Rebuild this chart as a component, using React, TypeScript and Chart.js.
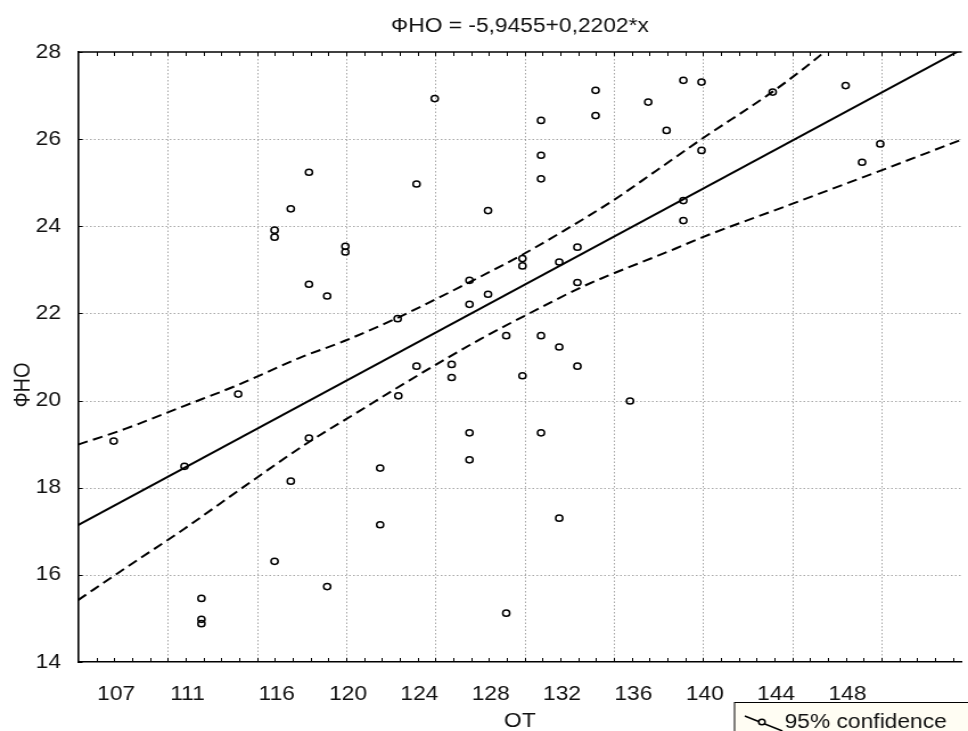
import React, { useEffect, useRef } from "react";
import { Chart, registerables } from "chart.js";

Chart.register(...registerables);

// ---------- text ----------
const TITLE = "ФНО = -5,9455+0,2202*x";
const X_TITLE = "ОТ";
const Y_TITLE = "ФНО";
const CI_LABEL = "95% confidence";

// ---------- axes ----------
const X_MIN = 104.86;
const X_MAX = 154.41;
const Y_MIN = 14;
const Y_MAX = 28;
const xTickLabels = [107, 111, 116, 120, 124, 128, 132, 136, 140, 144, 148];
const xGridValues = [109.9, 114.9, 119.9, 124.9, 129.9, 134.9, 139.9, 144.9, 149.9];
const yTickValues = [14, 16, 18, 20, 22, 24, 26, 28];

// ---------- observations ----------
const obsX = [
  106.86, 110.83, 111.78, 111.78, 111.78, 113.84, 115.88, 115.88, 115.88, 116.79,
  116.79, 117.81, 117.81, 117.81, 118.83, 118.83, 119.85, 119.85, 121.8, 121.8,
  122.78, 122.82, 123.84, 123.84, 124.86, 125.81, 125.81, 126.81, 126.81, 126.81,
  126.81, 127.85, 127.85, 128.87, 128.87, 129.78, 129.78, 129.78, 130.82, 130.82,
  130.82, 130.82, 130.82, 131.84, 131.84, 131.84, 132.86, 132.86, 132.86, 133.88,
  133.88, 135.81, 136.83, 137.86, 138.8, 138.8, 138.8, 139.82, 139.82, 143.81,
  147.9, 148.82, 149.84,
];
const obsY = [
  19.07, 18.49, 15.46, 14.98, 14.88, 20.15, 23.91, 23.75, 16.31, 24.4,
  18.15, 25.24, 22.67, 19.14, 22.4, 15.73, 23.54, 23.41, 18.45, 17.15,
  21.88, 20.11, 24.97, 20.79, 26.93, 20.83, 20.53, 22.76, 22.21, 19.26,
  18.64, 24.36, 22.44, 21.49, 15.12, 23.26, 23.09, 20.57, 26.43, 25.63,
  25.09, 21.49, 19.26, 23.18, 21.23, 17.3, 23.52, 22.71, 20.79, 27.12,
  26.54, 19.99, 26.85, 26.2, 27.35, 24.59, 24.13, 27.31, 25.74, 27.08,
  27.23, 25.47, 25.89,
];

// ---------- regression line (read at plot edges) ----------
const fitX = [104.86, 154.41];
const fitY = [17.14, 28.06];

// ---------- 95% confidence bands ----------
const upperX = [104.86, 107.5, 110.83, 113.84, 117.22, 119.93, 122.78, 126.68, 129.65, 132.07, 134.85, 137.26, 139.82, 143.81, 146.17, 146.7];
const upperY = [18.99, 19.35, 19.88, 20.36, 20.97, 21.39, 21.9, 22.69, 23.32, 23.89, 24.59, 25.27, 26.0, 27.09, 27.82, 28.0];
const lowerX = [104.86, 107.57, 110.83, 113.84, 117.81, 120.56, 122.78, 127.42, 130.21, 133.18, 138.37, 139.82, 144.93, 149.94, 154.41];
const lowerY = [15.42, 16.17, 17.06, 17.93, 19.05, 19.74, 20.3, 21.41, 22.01, 22.62, 23.49, 23.74, 24.52, 25.29, 25.99];

const FONT = "'Liberation Sans', Arial, sans-serif";
const INK = "#111";

const zip = (xs: number[], ys: number[]) => xs.map((x, i) => ({ x, y: ys[i] }));

const decorPlugin = {
  id: "decor",
  beforeDatasetsDraw(chart: any) {
    const { ctx, chartArea: a, scales } = chart;
    const x = scales.x;
    const y = scales.y;
    ctx.save();
    // dotted grid
    ctx.strokeStyle = "rgba(120,120,120,0.65)";
    ctx.lineWidth = 1;
    ctx.setLineDash([1.5, 2]);
    ctx.beginPath();
    for (const v of xGridValues) {
      const px = Math.round(x.getPixelForValue(v)) + 0.5;
      ctx.moveTo(px, a.top);
      ctx.lineTo(px, a.bottom);
    }
    for (const v of yTickValues) {
      if (v <= Y_MIN || v >= Y_MAX) continue;
      const py = Math.round(y.getPixelForValue(v)) + 0.5;
      ctx.moveTo(a.left, py);
      ctx.lineTo(a.right, py);
    }
    ctx.stroke();
    ctx.setLineDash([]);
    // top frame
    ctx.strokeStyle = "#000";
    ctx.lineWidth = 1.6;
    ctx.beginPath();
    ctx.moveTo(a.left, a.top);
    ctx.lineTo(a.right, a.top);
    ctx.stroke();
    // minor ticks top & bottom
    ctx.lineWidth = 1;
    ctx.beginPath();
    for (let v = xGridValues[0] - 4; v <= X_MAX; v += 1) {
      const px = Math.round(x.getPixelForValue(v)) + 0.5;
      ctx.moveTo(px, a.top);
      ctx.lineTo(px, a.top + 4);
      ctx.moveTo(px, a.bottom);
      ctx.lineTo(px, a.bottom - 4);
    }
    for (const v of yTickValues) {
      const py = Math.round(y.getPixelForValue(v)) + 0.5;
      ctx.moveTo(a.left, py);
      ctx.lineTo(a.left + 4, py);
    }
    ctx.stroke();
    // y-axis title (drawn a little below the axis middle, as in the reference)
    ctx.fillStyle = INK;
    ctx.font = `20px ${FONT}`;
    ctx.textAlign = "center";
    ctx.textBaseline = "middle";
    ctx.translate(20, 385);
    ctx.rotate(-Math.PI / 2);
    ctx.fillText(Y_TITLE, 0, 0);
    ctx.restore();
  },
};

const ciLegendPlugin = {
  id: "ciLegend",
  afterDraw(chart: any) {
    const { ctx } = chart;
    const ds = chart.data.datasets[2];
    const left = 644.5;
    const top = 702;
    ctx.save();
    ctx.fillStyle = "#fffdf3";
    ctx.strokeStyle = "#000";
    ctx.lineWidth = 1;
    ctx.fillRect(left, top, 260, 60);
    ctx.strokeRect(left + 0.5, top + 0.5, 260, 60);
    // icon: line with marker
    ctx.lineWidth = 1.5;
    ctx.beginPath();
    ctx.moveTo(654, 716);
    ctx.lineTo(687, 731);
    ctx.stroke();
    ctx.fillStyle = "#fffdf3";
    ctx.beginPath();
    ctx.arc(669, 722, 2.8, 0, Math.PI * 2);
    ctx.fill();
    ctx.stroke();
    ctx.fillStyle = INK;
    ctx.font = `20px ${FONT}`;
    ctx.textBaseline = "middle";
    ctx.textAlign = "left";
    ctx.fillText(ds.label, 689, 722);
    ctx.restore();
  },
};

export default function App() {
  const ref = useRef<HTMLCanvasElement | null>(null);

  useEffect(() => {
    if (!ref.current) return;
    Chart.defaults.font.family = FONT;
    const chart = new Chart(ref.current, {
      type: "scatter",
      data: {
        datasets: [
          {
            label: "obs",
            data: zip(obsX, obsY),
            pointRadius: 3.1,
            pointBorderWidth: 1.5,
            pointBorderColor: "#000",
            pointBackgroundColor: "rgba(0,0,0,0)",
            showLine: false,
          },
          {
            label: "fit",
            data: zip(fitX, fitY),
            showLine: true,
            borderColor: "#000",
            borderWidth: 2,
            pointRadius: 0,
          },
          {
            label: CI_LABEL,
            data: zip(upperX, upperY),
            showLine: true,
            borderColor: "#000",
            borderWidth: 2,
            borderDash: [9, 5],
            pointRadius: 0,
            cubicInterpolationMode: "monotone",
          },
          {
            label: CI_LABEL,
            data: zip(lowerX, lowerY),
            showLine: true,
            borderColor: "#000",
            borderWidth: 2,
            borderDash: [9, 5],
            pointRadius: 0,
            cubicInterpolationMode: "monotone",
          },
        ],
      },
      options: {
        responsive: false,
        devicePixelRatio: 1,
        animation: false,
        events: [],
        layout: { padding: 0 },
        plugins: {
          legend: { display: false },
          tooltip: { enabled: false },
          title: {
            display: true,
            text: TITLE,
            color: INK,
            fullSize: false,
            font: { size: 20, weight: "normal", family: FONT, lineHeight: 1.2 },
            padding: { top: 14, bottom: 14 },
          },
        },
        scales: {
          x: {
            type: "linear",
            min: X_MIN,
            max: X_MAX,
            afterBuildTicks: (s: any) => {
              s.ticks = xTickLabels.map((v) => ({ value: v }));
            },
            afterFit: (s: any) => {
              s.height = 69;
            },
            ticks: {
              padding: 12,
              color: INK,
              autoSkip: false,
              maxRotation: 0,
              font: { size: 20, family: FONT, lineHeight: 1.2 },
              callback: (v: any) => String(v),
            },
            grid: { display: false },
            border: { display: true, color: "#000", width: 1.6 },
            title: {
              display: true,
              text: X_TITLE,
              color: INK,
              font: { size: 20, family: FONT, lineHeight: 1 },
              padding: { top: 0, bottom: 0 },
            },
          },
          y: {
            type: "linear",
            min: Y_MIN,
            max: Y_MAX,
            afterBuildTicks: (s: any) => {
              s.ticks = yTickValues.map((v) => ({ value: v }));
            },
            afterFit: (s: any) => {
              s.width = 68.5;
            },
            ticks: {
              padding: 7,
              color: INK,
              font: { size: 20, family: FONT, lineHeight: 1.2 },
              callback: (v: any) => String(v),
            },
            grid: { display: false },
            border: { display: true, color: "#000", width: 1.6 },
            title: { display: false, text: Y_TITLE },
          },
        },
      },
      plugins: [decorPlugin, ciLegendPlugin],
    } as any);
    return () => chart.destroy();
  }, []);

  return (
    <div style={{ position: "absolute", left: 0, top: 0, width: 968, height: 731, background: "#fff", overflow: "hidden" }}>
      <canvas
        ref={ref}
        width={850}
        height={731}
        style={{ width: "968px", height: "731px", display: "block" }}
      />
    </div>
  );
}
